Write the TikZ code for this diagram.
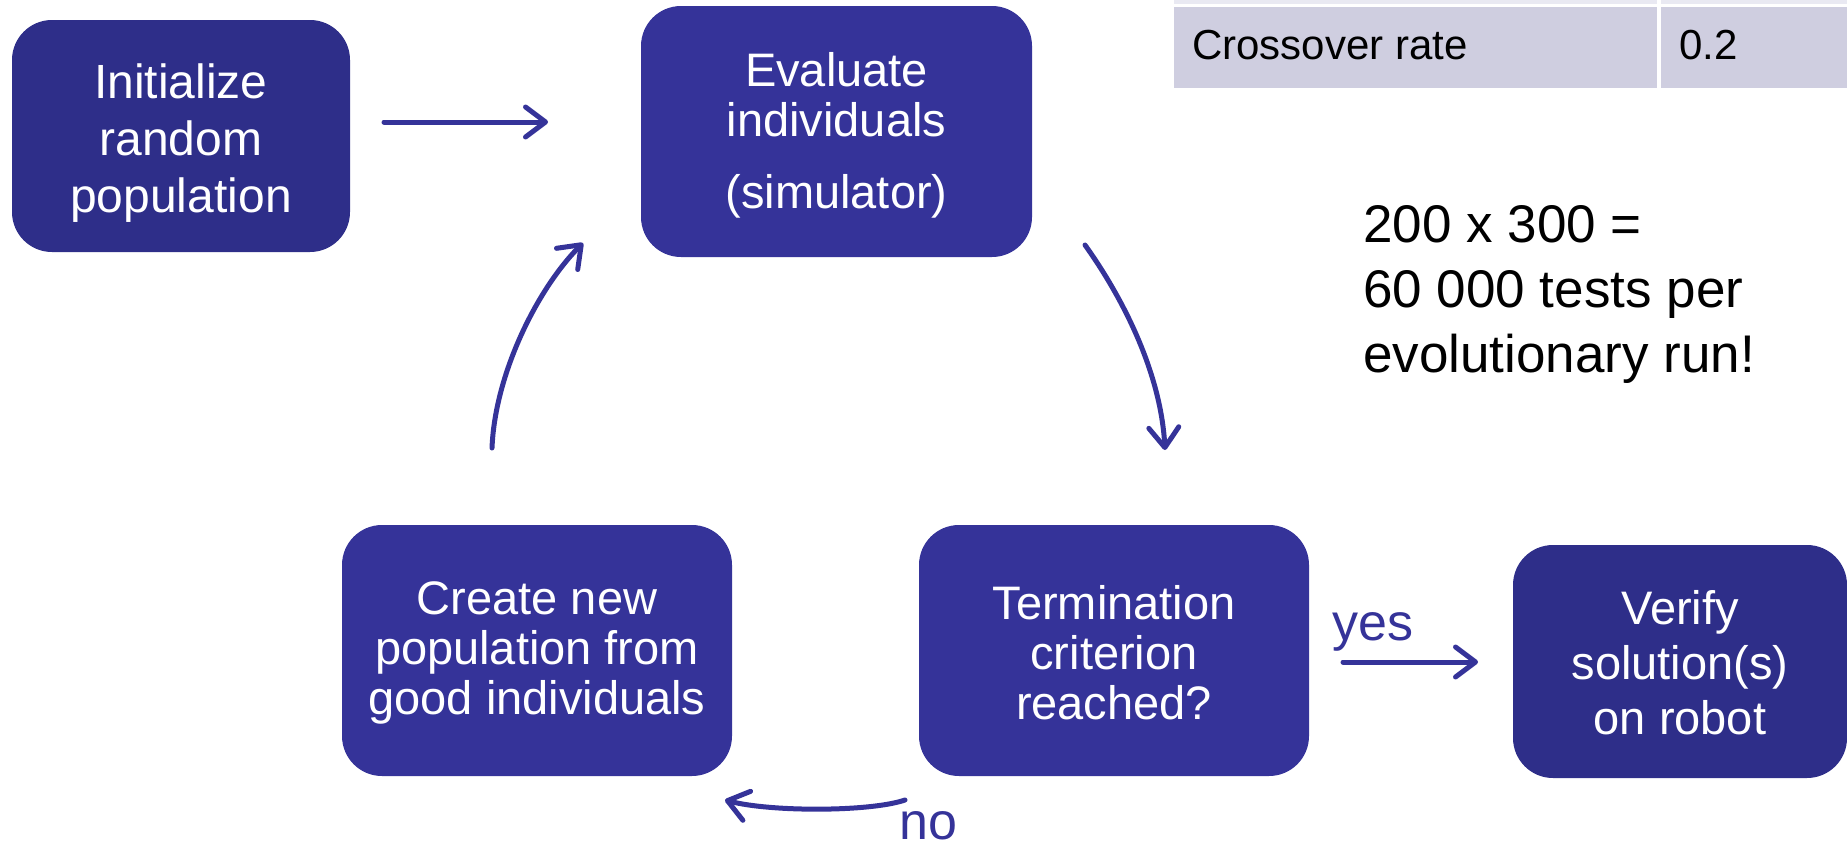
\documentclass[tikz,border=0pt]{standalone}
\usepackage{fontspec}
\setmainfont{Liberation Sans}
\usetikzlibrary{arrows.meta}
\definecolor{boxblue}{RGB}{53,51,153}
\definecolor{darkblue}{RGB}{46,46,137}
\definecolor{rowa}{RGB}{233,233,242}
\definecolor{rowb}{RGB}{207,206,224}
\begin{document}
\begin{tikzpicture}[x=1pt,y=-1pt,
 procbox/.style={fill=boxblue, rounded corners=40pt, inner sep=0pt},
 boxtext/.style={text=white, align=center, inner sep=0pt, font=\fontsize{47}{50}\selectfont},
 flow/.style={draw=boxblue, line width=5pt, line cap=round, -{Straight Barb[length=20pt,width=30pt,line cap=round,line join=round]}},
 lbl/.style={text=boxblue, font=\fontsize{52}{60}\selectfont, inner sep=0pt},
 celltext/.style={text=black, font=\fontsize{42}{48}\selectfont, inner sep=0pt, anchor=west}]
\useasboundingbox (0,0) rectangle (1847,846);
% table fragment
\fill[rowa] (1174,0) rectangle (1847,4);
\fill[rowb] (1174,7) rectangle (1847,88);
\fill[white] (1657,0) rectangle (1661,88);
\node[celltext] (c1) at (1192,45) {Crossover rate};
\node[celltext] (c2) at (1679,45) {0.2};
% boxes
\node[procbox, fill=darkblue, minimum width=338pt, minimum height=232pt] (init) at (181,136) {};
\node[boxtext, font=\fontsize{48}{57}\selectfont] (initt) at (181,143) {Initialize\\random\\population};
\node[procbox, minimum width=391pt, minimum height=251pt] (eval) at (836.5,131.5) {};
\node[boxtext] (evalt) at (836.5,135) {Evaluate\\individuals\\[22pt](simulator)};
\node[procbox, minimum width=390pt, minimum height=251pt] (term) at (1114,650.5) {};
\node[boxtext] (termt) at (1114,653) {Termination\\criterion\\reached?};
\node[procbox, minimum width=390pt, minimum height=251pt] (create) at (537,650.5) {};
\node[boxtext] (createt) at (537,653) {Create new\\population from\\good individuals};
\node[procbox, fill=darkblue, minimum width=334pt, minimum height=233pt] (verify) at (1680,661.5) {};
\node[boxtext, font=\fontsize{47}{55}\selectfont] (verifyt) at (1680,663) {Verify\\solution(s)\\on robot};
% note
\node[text=black, align=left, anchor=west, inner sep=0pt, font=\fontsize{53}{65}\selectfont] (note) at (1363,294) {200 x 300 =\\60 000 tests per\\evolutionary run!};
% connector end points
\coordinate (a1s) at (384,122);
\coordinate (a1e) at (548,122);
\coordinate (a2s) at (1085,245);
\coordinate (a2e) at (1165,450);
\coordinate (a3s) at (492,448);
\coordinate (a3e) at (583,243);
\coordinate (a4s) at (905,800);
\coordinate (a4e) at (725,800);
\coordinate (a5s) at (1343,662);
\coordinate (a5e) at (1478,662);
\draw[flow] (a1s) -- (a1e);
\draw[flow] (a2s) .. controls (1125,301) and (1161,375) .. (a2e);
\draw[flow] (a3s) .. controls (495,373) and (538,288) .. (a3e);
\draw[flow] (a4s) .. controls (870,812) and (770,812) .. (a4e);
\draw[flow] (a5s) -- (a5e);
\node[lbl] (yes) at (1373,632) {yes};
\node[lbl] (no) at (928,826) {no};
\end{tikzpicture}
\end{document}
